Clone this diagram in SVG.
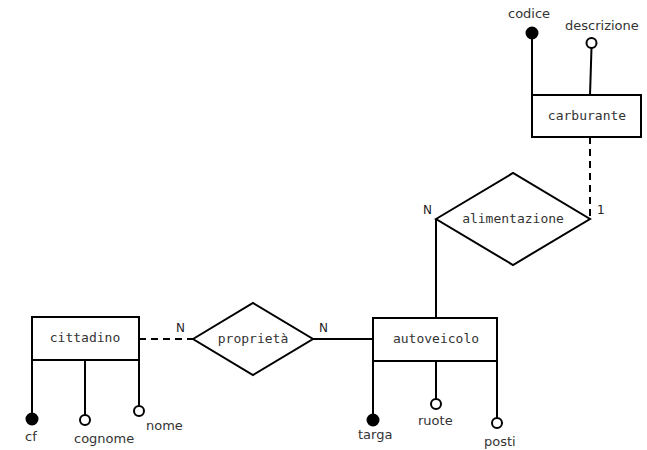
<svg xmlns="http://www.w3.org/2000/svg" width="647" height="450" viewBox="0 0 647 450">
<style>
.ent{fill:#fff;stroke:#000;stroke-width:2}
.rel{fill:#fff;stroke:#000;stroke-width:2}
.ln{stroke:#000;stroke-width:2;fill:none}
.dash{stroke:#000;stroke-width:2;fill:none;stroke-dasharray:7,5}
.key{fill:#000;stroke:#000;stroke-width:2}
.att{fill:#fff;stroke:#000;stroke-width:2}
.nl{font-family:"DejaVu Sans Mono",monospace;font-size:13px;fill:#333;text-anchor:middle}
.al{font-family:"DejaVu Sans",sans-serif;font-size:13px;fill:#333}
.card{font-family:"DejaVu Sans",sans-serif;font-size:12px;fill:#222}
</style>
<rect width="647" height="450" fill="#fff"/>
<g id="connectors">
<line class="dash" x1="590" y1="137" x2="590" y2="219"/>
<line class="ln" x1="436" y1="219" x2="436" y2="318"/>
<line class="ln" x1="313" y1="339" x2="373" y2="339"/>
<line class="dash" x1="139" y1="339" x2="193" y2="339"/>
<text class="card" x="423" y="214">N</text>
<text class="card" x="597" y="214">1</text>
<text class="card" x="176" y="332">N</text>
<text class="card" x="319" y="332">N</text>
</g>
<g id="carburante">
<line class="ln" x1="532" y1="39" x2="532" y2="95"/>
<circle class="key" cx="532" cy="33" r="5.5"/>
<text class="al" x="508" y="18">codice</text>
<line class="ln" x1="591.5" y1="48" x2="590" y2="95"/>
<circle class="att" cx="591.5" cy="43" r="5"/>
<text class="al" x="565" y="30">descrizione</text>
<rect class="ent" x="532" y="95" width="109" height="42"/>
<text class="nl" x="587" y="120">carburante</text>
</g>
<g id="alimentazione">
<polygon class="rel" points="436,219 513,173 590,219 513,265"/>
<text class="nl" x="513" y="223">alimentazione</text>
</g>
<g id="autoveicolo">
<line class="ln" x1="373" y1="361" x2="373" y2="414"/>
<circle class="key" cx="373" cy="420" r="5.5"/>
<text class="al" x="358" y="439">targa</text>
<line class="ln" x1="436" y1="361" x2="436" y2="399"/>
<circle class="att" cx="436" cy="404" r="5"/>
<text class="al" x="418" y="425">ruote</text>
<line class="ln" x1="497" y1="361" x2="497" y2="418"/>
<circle class="att" cx="497" cy="423" r="5"/>
<text class="al" x="484" y="446">posti</text>
<rect class="ent" x="373" y="318" width="124" height="43"/>
<text class="nl" x="436" y="343">autoveicolo</text>
</g>
<g id="proprieta">
<polygon class="rel" points="193,339 253,303 313,339 253,375"/>
<text class="nl" x="253" y="343">proprietà</text>
</g>
<g id="cittadino">
<line class="ln" x1="32" y1="360" x2="32" y2="414"/>
<circle class="key" cx="32" cy="419" r="5.5"/>
<text class="al" x="25" y="441">cf</text>
<line class="ln" x1="85" y1="360" x2="85" y2="415"/>
<circle class="att" cx="85" cy="420" r="5"/>
<text class="al" x="74" y="443">cognome</text>
<line class="ln" x1="139" y1="360" x2="139" y2="406"/>
<circle class="att" cx="139" cy="411" r="5"/>
<text class="al" x="146" y="430">nome</text>
<rect class="ent" x="32" y="317" width="107" height="43"/>
<text class="nl" x="85" y="342">cittadino</text>
</g>
</svg>
